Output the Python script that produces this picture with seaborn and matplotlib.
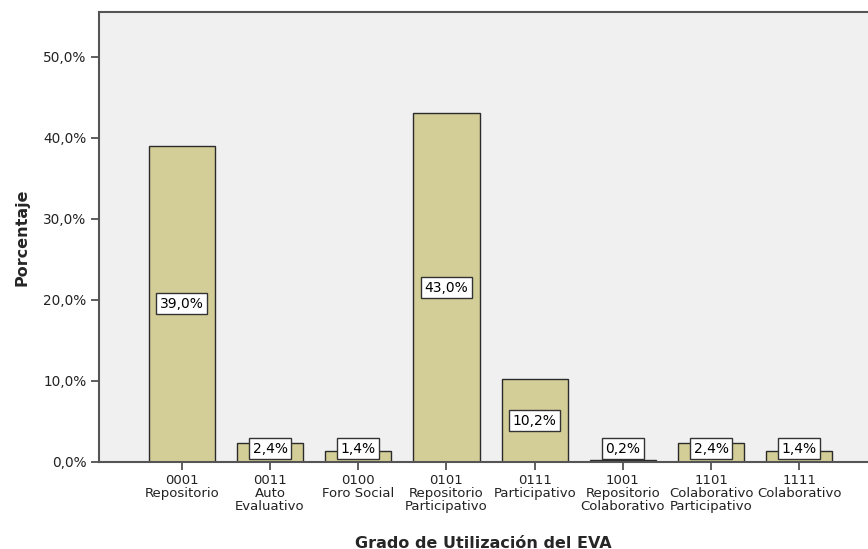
import numpy as np
import pandas as pd
import matplotlib.pyplot as plt
import seaborn as sns

# data
codigos = ['0001', '0011', '0100', '0101', '0111', '1001', '1101', '1111']
nombres = ['Repositorio', 'Auto\nEvaluativo', 'Foro Social', 'Repositorio\nParticipativo',
           'Participativo', 'Repositorio\nColaborativo', 'Colaborativo\nParticipativo', 'Colaborativo']
porcentaje = [39.0, 2.4, 1.4, 43.0, 10.2, 0.2, 2.4, 1.4]

df = pd.DataFrame({'grado': [c + '\n' + n for c, n in zip(codigos, nombres)],
                   'pct': porcentaje})

sns.set_style('white')
plt.rcParams['font.family'] = ['DejaVu Sans']

fig = plt.figure(figsize=(8.68, 5.49), dpi=100)
ax = fig.add_axes([0.114, 0.1585, 0.886, 0.8195])
ax.set_facecolor('#F0F0F0')

sns.barplot(data=df, x='grado', y='pct', color='#D3CE97', saturation=1,
            width=0.75, edgecolor='#2b2b2b', linewidth=1, ax=ax)

# value labels in white boxes
for i, v in enumerate(porcentaje):
    ypos = max(v / 2, 1.65)
    ax.text(i, ypos, f'{v:.1f}%'.replace('.', ','), ha='center', va='center',
            fontsize=10, color='black',
            bbox=dict(boxstyle='square,pad=0.25', fc='white', ec='#333333', lw=1))

ax.set_xlim(-0.94, 7.78)
ax.set_ylim(0, 55.5)
ax.set_yticks([0, 10, 20, 30, 40, 50])
ax.set_yticklabels([f'{t:.1f}%'.replace('.', ',') for t in [0, 10, 20, 30, 40, 50]],
                   fontsize=9.8, color='#222222')
ax.set_xticks(range(len(codigos)))
ax.set_xticklabels(df['grado'], fontsize=9.5, color='#222222', linespacing=1.0)
ax.tick_params(axis='both', length=6, width=1.2, color='#444444', direction='out',
               bottom=True, left=True, pad=3)

for side in ['left', 'bottom', 'top']:
    ax.spines[side].set_color('#555555')
    ax.spines[side].set_linewidth(1.5)
ax.spines['right'].set_visible(False)

ax.set_xlabel('Grado de Utilización del EVA', fontsize=11.5, fontweight='bold', labelpad=16)
ax.set_ylabel('Porcentaje', fontsize=11.5, fontweight='bold', labelpad=10)

fig.savefig('out.png', dpi=100)
